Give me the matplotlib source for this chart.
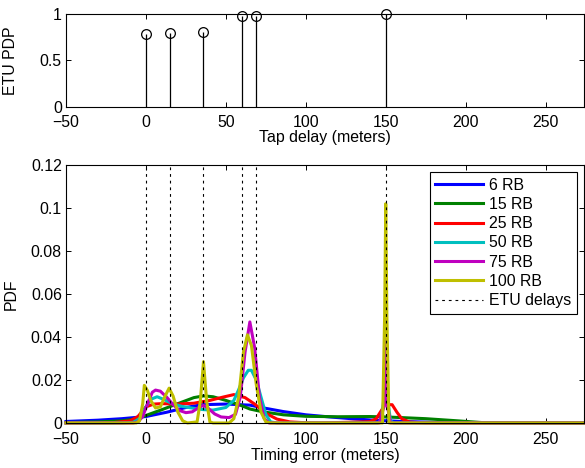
import matplotlib
matplotlib.use("Agg")
import matplotlib.pyplot as plt

plt.rcParams['font.family'] = ['Liberation Sans', 'DejaVu Sans']
plt.rcParams['font.size'] = 11.4

# ---- data ----
tap_delays = [0, 15, 36, 60, 69, 150]
tap_power = [0.785, 0.792, 0.803, 0.978, 0.982, 1.0]

x_6rb = [-50, -30, -15, 0, 13, 25, 35, 50, 65, 75, 86, 100, 115, 130, 145, 160, 180, 200, 230, 274]
y_6rb = [0.0007, 0.0013, 0.002, 0.003, 0.005, 0.0072, 0.0085, 0.0088, 0.0083, 0.0068, 0.0053,
         0.0038, 0.0028, 0.0019, 0.0012, 0.0007, 0.0003, 0.0001, 0.0, 0.0]

x_15rb = [-50, -30, -15, -5, 0, 10, 20, 30, 36, 42, 50, 60, 65, 73, 86, 100, 120, 140, 150,
          160, 175, 195, 210, 230, 274]
y_15rb = [0.0002, 0.0005, 0.001, 0.002, 0.0035, 0.0062, 0.009, 0.0118, 0.0126, 0.0122, 0.0105,
          0.008, 0.0065, 0.0052, 0.0038, 0.0031, 0.0029, 0.003, 0.0028, 0.0025, 0.002, 0.001,
          0.0002, 0.0, 0.0]

x_25rb = [-50, -20, -10, -5, 0, 5, 10, 20, 30, 40, 48, 55, 62, 68, 75, 82, 90, 100, 110,
          140, 144, 147, 149, 149.6, 150, 150.4, 151, 154, 157, 160, 165, 175, 274]
y_25rb = [0.0, 0.0002, 0.001, 0.003, 0.0075, 0.0088, 0.009, 0.0088, 0.0092, 0.0105, 0.012,
          0.0132, 0.0118, 0.0088, 0.0045, 0.0018, 0.0005, 0.0001, 0.0,
          0.0006, 0.002, 0.0055, 0.0078, 0.02, 0.038, 0.02, 0.0085, 0.0085, 0.005, 0.002,
          0.0004, 0.0, 0.0]

x_50rb = [-50, -15, -8, -4, 0, 3, 7, 11, 16, 22, 30, 36, 42, 50, 55, 58, 61, 64, 66, 69,
          72, 75, 78, 82, 145, 147, 149, 150, 151, 153, 155, 274]
y_50rb = [0.0, 0.0, 0.0003, 0.002, 0.0075, 0.011, 0.0122, 0.011, 0.0092, 0.0078, 0.0068,
          0.0062, 0.006, 0.0072, 0.0105, 0.0155, 0.021, 0.0245, 0.0245, 0.02,
          0.012, 0.004, 0.0005, 0.0, 0.0, 0.001, 0.012, 0.03, 0.012, 0.001, 0.0, 0.0]

x_75rb = [-50, -8, -5, -2, 1, 4, 6, 9, 13, 17, 21, 25, 29, 33, 36, 39, 43, 47, 52, 56,
          59, 62, 65, 68, 71, 74, 77, 146, 149, 150, 151, 153, 274]
y_75rb = [0.0, 0.0, 0.0005, 0.003, 0.009, 0.0143, 0.0153, 0.0148, 0.012, 0.0085, 0.0058,
          0.0048, 0.0052, 0.0072, 0.0082, 0.0068, 0.0042, 0.0028, 0.0025, 0.004,
          0.012, 0.033, 0.047, 0.035, 0.012, 0.002, 0.0, 0.0, 0.008, 0.05, 0.008, 0.0, 0.0]

x_100rb = [-50, -6, -4, -2, -1, 1, 3, 6, 9, 12, 14.5, 17, 20, 23, 26, 32, 34, 36, 38, 40,
           42, 52, 55, 58, 61, 63.5, 66, 69, 72, 75, 78, 148, 149.3, 150, 150.7, 152, 274]
y_100rb = [0.0, 0.0, 0.001, 0.009, 0.0175, 0.015, 0.0105, 0.007, 0.0075, 0.0125, 0.0162,
           0.0125, 0.005, 0.001, 0.0, 0.0005, 0.01, 0.0285, 0.01, 0.0005,
           0.0, 0.0, 0.002, 0.012, 0.033, 0.041, 0.036, 0.018, 0.005, 0.0005, 0.0,
           0.0, 0.05, 0.102, 0.05, 0.0, 0.0]

series = [
    ("6 RB", x_6rb, y_6rb, (0, 0, 1)),
    ("15 RB", x_15rb, y_15rb, (0, 0.5, 0)),
    ("25 RB", x_25rb, y_25rb, (1, 0, 0)),
    ("50 RB", x_50rb, y_50rb, (0, 0.75, 0.75)),
    ("75 RB", x_75rb, y_75rb, (0.75, 0, 0.75)),
    ("100 RB", x_100rb, y_100rb, (0.75, 0.75, 0)),
]

top_xticks = [-50, 0, 50, 100, 150, 200, 250]
top_yticks = [0, 0.5, 1]
top_ylabels = ["0", "0.5", "1"]
bot_yticks = [0, 0.02, 0.04, 0.06, 0.08, 0.1, 0.12]
bot_ylabels = ["0", "0.02", "0.04", "0.06", "0.08", "0.1", "0.12"]

# ---- figure ----
fig = plt.figure(figsize=(5.85, 4.68), dpi=100)
ax1 = fig.add_axes([0.1128, 0.7714, 0.8855, 0.1987])
ax2 = fig.add_axes([0.1128, 0.0962, 0.8855, 0.5513])

for ax in (ax1, ax2):
    ax.tick_params(direction='in', top=True, right=True, length=3.5, width=0.7,
                   labelsize=11.4)
    ax.tick_params(axis='y', pad=3)
    for s in ax.spines.values():
        s.set_linewidth(0.8)
ax1.tick_params(axis='x', pad=5.5)
ax2.tick_params(axis='x', pad=6.5)

# top stem plot
ax1.vlines(tap_delays, 0, tap_power, colors='k', linewidth=0.9)
ax1.plot(tap_delays, tap_power, 'o', markerfacecolor='none', markeredgecolor='k',
         markersize=7, markeredgewidth=0.9, clip_on=False, zorder=5)
ax1.set_xlim(-50, 274)
ax1.set_ylim(0, 1)
ax1.set_xticks(top_xticks)
ax1.set_yticks(top_yticks)
ax1.set_yticklabels(top_ylabels)
ax1.set_xlabel("Tap delay (meters)", labelpad=0)
ax1.set_ylabel("ETU PDP")
ax1.yaxis.set_label_coords(-0.092, 0.5)

# bottom PDF plot
for label, xs, ys, col in series:
    ax2.plot(xs, ys, color=col, linewidth=2.2, label=label, clip_on=False)
for i, d in enumerate(tap_delays):
    ax2.plot([d, d], [0, 0.12], color='k', linewidth=0.8, linestyle=(0, (2.5, 3.5)),
             label="ETU delays" if i == 0 else None)

ax2.set_xlim(-50, 274)
ax2.set_ylim(0, 0.12)
ax2.set_xticks(top_xticks)
ax2.set_yticks(bot_yticks)
ax2.set_yticklabels(bot_ylabels)
ax2.set_xlabel("Timing error (meters)", labelpad=1)
ax2.set_ylabel("PDF")
ax2.yaxis.set_label_coords(-0.092, 0.5)

leg = ax2.legend(loc='upper right', fancybox=False, framealpha=1, edgecolor='k',
                 handlelength=3.0, handletextpad=0.4, labelspacing=0.27,
                 borderaxespad=0.45, borderpad=0.35, fontsize=11.4)
leg.get_frame().set_linewidth(0.8)

fig.savefig("out.png", dpi=100)
